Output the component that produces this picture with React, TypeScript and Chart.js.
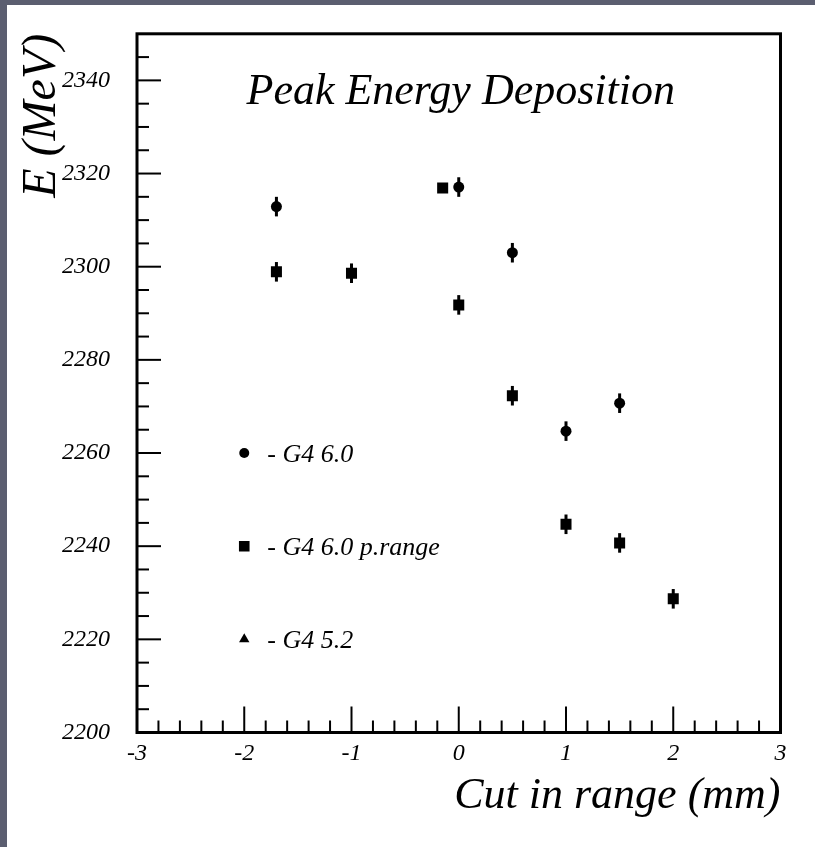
import React, { useEffect, useRef } from "react";
import { Chart, registerables } from "chart.js";

Chart.register(...registerables);

// ---- data ----
const X_TICKS = [-3, -2, -1, 0, 1, 2, 3];
const Y_TICKS = [2200, 2220, 2240, 2260, 2280, 2300, 2320, 2340];

const g460X = [-1.7, 0, 0.5, 1.0, 1.5];
const g460Y = [2312.9, 2317.1, 2303.0, 2264.7, 2270.7];
const g460Err = [2.1, 2.1, 2.1, 2.1, 2.1];

const prangeX = [-1.7, -1.0, -0.15, 0, 0.5, 1.0, 1.5, 2.0];
const prangeY = [2298.9, 2298.6, 2316.9, 2291.8, 2272.3, 2244.7, 2240.7, 2228.7];
const prangeErr = [2.1, 2.1, 1.0, 2.1, 2.1, 2.1, 2.1, 2.1];

const LEGEND_LABELS = ["- G4 6.0", "- G4 6.0 p.range", "- G4 5.2"];
const LEGEND_X = [-2, -2, -2];
const LEGEND_Y = [2260, 2240, 2220];

const TITLE = "Peak Energy Deposition";
const X_TITLE = "Cut in range (mm)";
const Y_TITLE = "E (MeV)";

const FAMILY = '"Liberation Serif", "Times New Roman", serif';

const framePlugin = {
  id: "rootFrame",
  beforeDatasetsDraw(chart: any) {
    const ctx = chart.ctx;
    const xs = chart.scales.x;
    const ys = chart.scales.y;
    ctx.save();
    ctx.strokeStyle = "#000";
    ctx.lineWidth = 3;
    ctx.lineCap = "butt";
    chart.data.datasets.forEach((ds: any) => {
      if (!ds.errors) return;
      ds.data.forEach((p: any, i: number) => {
        const e = ds.errors[i];
        if (!e) return;
        const px = xs.getPixelForValue(p.x);
        ctx.beginPath();
        ctx.moveTo(px, ys.getPixelForValue(p.y - e));
        ctx.lineTo(px, ys.getPixelForValue(p.y + e));
        ctx.stroke();
      });
    });
    ctx.restore();
  },
  afterDraw(chart: any) {
    const ctx = chart.ctx;
    const a = chart.chartArea;
    const xs = chart.scales.x;
    const ys = chart.scales.y;
    ctx.save();
    ctx.strokeStyle = "#000";
    ctx.lineWidth = 2;
    // x ticks (inward)
    for (let i = -15; i <= 15; i++) {
      const v = i / 5;
      const px = xs.getPixelForValue(v);
      const len = i % 5 === 0 ? 26 : 12;
      ctx.beginPath();
      ctx.moveTo(px, a.bottom);
      ctx.lineTo(px, a.bottom - len);
      ctx.stroke();
    }
    // y ticks (inward)
    for (let v = 2200; v < 2350; v += 5) {
      const py = ys.getPixelForValue(v);
      const len = (v - 2200) % 20 === 0 ? 24 : 12;
      ctx.beginPath();
      ctx.moveTo(a.left, py);
      ctx.lineTo(a.left + len, py);
      ctx.stroke();
    }
    // frame
    ctx.lineWidth = 3;
    ctx.strokeRect(a.left, a.top, a.right - a.left, a.bottom - a.top);

    // title inside the frame
    ctx.fillStyle = "#000";
    ctx.font = `italic 44px ${FAMILY}`;
    ctx.textAlign = "center";
    ctx.textBaseline = "alphabetic";
    ctx.fillText(TITLE, (a.left + a.right) / 2 + 2, a.top + 70);

    // legend texts
    ctx.font = `italic 26px ${FAMILY}`;
    ctx.textAlign = "left";
    LEGEND_LABELS.forEach((t, i) => {
      const px = xs.getPixelForValue(LEGEND_X[i]);
      const py = ys.getPixelForValue(LEGEND_Y[i]);
      ctx.fillText(t, px + 23, py + 9);
    });
    ctx.restore();
  },
};

export default function App() {
  const ref = useRef<HTMLCanvasElement>(null);

  useEffect(() => {
    const canvas = ref.current;
    if (!canvas) return;
    const chart = new Chart(canvas, {
      type: "scatter",
      data: {
        datasets: [
          {
            label: "G4 6.0",
            data: g460X.map((x, i) => ({ x, y: g460Y[i] })),
            errors: g460Err,
            pointStyle: "circle",
            pointRadius: 5.5,
            pointBorderWidth: 0,
            backgroundColor: "#000",
            borderColor: "#000",
            showLine: false,
          } as any,
          {
            label: "G4 6.0 p.range",
            data: prangeX.map((x, i) => ({ x, y: prangeY[i] })),
            errors: prangeErr,
            pointStyle: "rect",
            pointRadius: 7.8,
            pointBorderWidth: 0,
            backgroundColor: "#000",
            borderColor: "#000",
            showLine: false,
          } as any,
          {
            label: "legend",
            data: LEGEND_X.map((x, i) => ({ x, y: LEGEND_Y[i] })),
            pointStyle: ["circle", "rect", "triangle"],
            pointRadius: [5, 7.5, 6],
            pointBorderWidth: 0,
            backgroundColor: "#000",
            borderColor: "#000",
            showLine: false,
          } as any,
        ],
      },
      options: {
        animation: false,
        responsive: false,
        devicePixelRatio: 1,
        layout: { padding: { top: 28.8, right: 34.5, left: 0, bottom: 0 } },
        plugins: {
          legend: { display: false },
          tooltip: { enabled: false },
          title: { display: false },
        },
        scales: {
          x: {
            type: "linear",
            min: -3,
            max: 3,
            afterBuildTicks: (s: any) => {
              s.ticks = X_TICKS.map((v) => ({ value: v }));
            },
            afterFit: (s: any) => {
              s.height = 114.5;
              s.paddingLeft = 0;
              s.paddingRight = 0;
              s.paddingTop = 0;
              s.paddingBottom = 0;
            },
            grid: { display: false, drawTicks: false },
            border: { display: false },
            ticks: {
              color: "#000",
              font: { family: FAMILY, size: 24, style: "italic" },
              padding: 7,
              maxRotation: 0,
              autoSkip: false,
              callback: (v: any) => String(v),
            },
            title: {
              display: true,
              text: X_TITLE,
              align: "end",
              color: "#000",
              font: { family: FAMILY, size: 44, style: "italic" },
              padding: { top: 0, bottom: 24.5 },
            },
          },
          y: {
            type: "linear",
            min: 2200,
            max: 2350,
            afterBuildTicks: (s: any) => {
              s.ticks = Y_TICKS.map((v) => ({ value: v }));
            },
            afterFit: (s: any) => {
              s.width = 130;
              s.paddingLeft = 0;
              s.paddingRight = 0;
              s.paddingTop = 0;
              s.paddingBottom = 0;
            },
            grid: { display: false, drawTicks: false },
            border: { display: false },
            ticks: {
              color: "#000",
              font: { family: FAMILY, size: 24, style: "italic" },
              padding: 27,
              autoSkip: false,
              callback: (v: any) => String(v),
            },
            title: {
              display: true,
              text: Y_TITLE,
              align: "end",
              color: "#000",
              font: { family: FAMILY, size: 48, style: "italic" },
              padding: { top: 6.3, bottom: 0 },
            },
          },
        },
      } as any,
      plugins: [framePlugin],
    });
    return () => chart.destroy();
  }, []);

  return (
    <div
      style={{
        position: "fixed",
        left: 0,
        top: 0,
        width: 815,
        height: 847,
        background: "#5b5e70",
      }}
    >
      <div
        style={{
          position: "absolute",
          left: 7,
          top: 5,
          width: 808,
          height: 842,
          background: "#ffffff",
        }}
      >
        <canvas ref={ref} width={808} height={842} style={{ display: "block" }} />
      </div>
    </div>
  );
}
